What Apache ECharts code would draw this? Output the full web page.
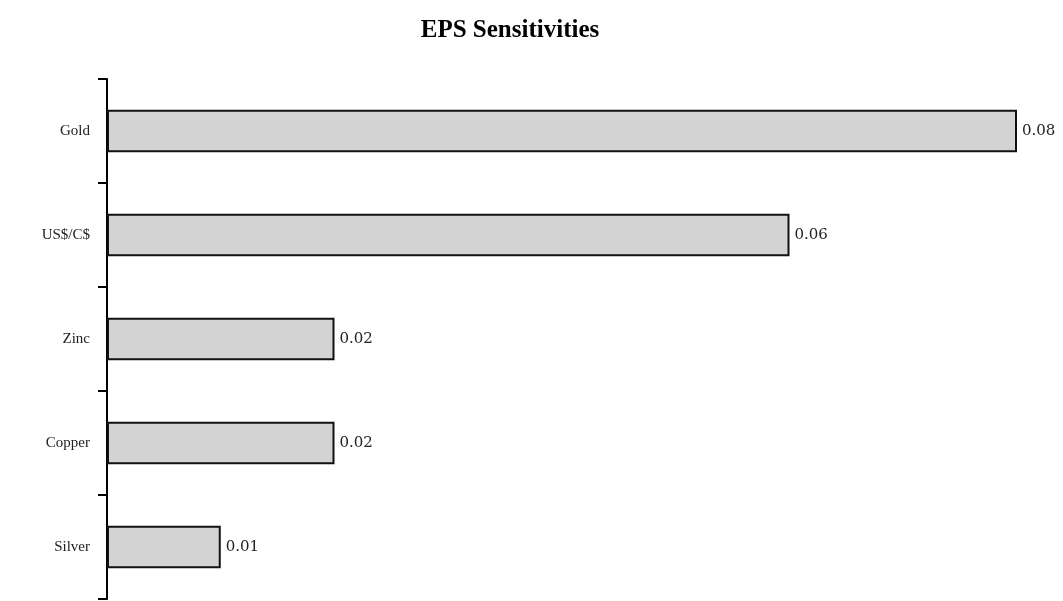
<!DOCTYPE html>
<html>
<head>
<meta charset="utf-8">
<script src="https://cdn.jsdelivr.net/npm/echarts@6/dist/echarts.min.js"></script>
<style>
  html, body { margin: 0; padding: 0; background: #fff; }
  #chart { width: 1063px; height: 601px; }
</style>
</head>
<body>
<div id="chart"></div>
<script>
// EPS sensitivity per driver
const categories = ['Gold', 'US$/C$', 'Zinc', 'Copper', 'Silver'];
const epsValues = [0.08, 0.06, 0.02, 0.02, 0.01];

const serif = '"Liberation Serif", "DejaVu Serif", serif';
const wideSerif = '"DejaVu Serif", "Liberation Serif", serif';

const chart = echarts.init(document.getElementById('chart'));
chart.setOption({
  animation: false,
  backgroundColor: '#ffffff',
  title: {
    text: 'EPS Sensitivities',
    left: 505,
    textAlign: 'center',
    top: 13,
    textStyle: { fontFamily: serif, fontWeight: 'bold', fontSize: 25, color: '#000' }
  },
  grid: { left: 107, right: 46, top: 79, bottom: 2 },
  xAxis: {
    type: 'value',
    min: 0,
    max: 0.08,
    show: false
  },
  yAxis: {
    type: 'category',
    data: categories,
    inverse: true,
    axisLine: { show: true, lineStyle: { color: '#000', width: 2 } },
    axisTick: { show: true, inside: false, length: 9, lineStyle: { color: '#000', width: 2 } },
    axisLabel: { fontFamily: serif, fontSize: 15, color: '#222', margin: 17 }
  },
  series: [{
    type: 'bar',
    data: epsValues,
    barWidth: '41%',
    itemStyle: { color: '#d3d3d3', borderColor: '#111', borderWidth: 2 },
    label: {
      show: true,
      position: 'right',
      distance: 5,
      fontFamily: wideSerif,
      fontSize: 15,
      color: '#222',
      formatter: p => p.value.toFixed(2)
    }
  }]
});
</script>
</body>
</html>
